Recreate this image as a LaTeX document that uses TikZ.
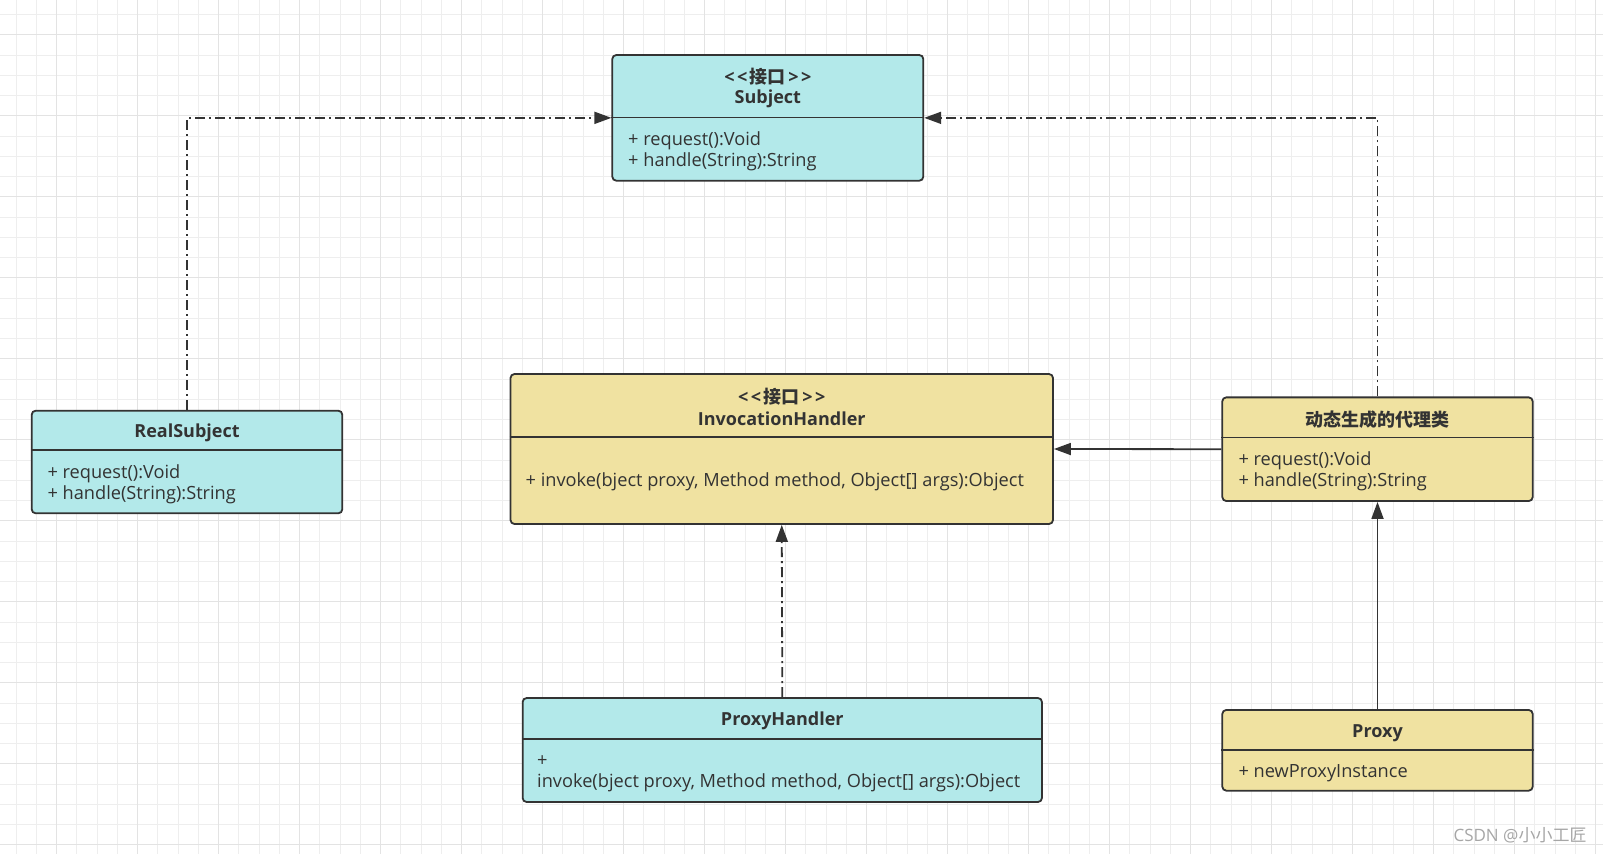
\documentclass[tikz,border=0pt]{standalone}
\usepackage{fontspec}
\setmainfont{Open Sans}
\newfontfamily\cjk{Noto Sans CJK SC}
\usetikzlibrary{arrows.meta,calc}
\definecolor{cyanfill}{HTML}{B3E9EA}
\definecolor{yellowfill}{HTML}{F0E2A1}
\definecolor{edgecol}{HTML}{333333}
\definecolor{gridthin}{HTML}{EEEEEE}
\definecolor{gridthick}{HTML}{E3E3E3}
\definecolor{wmark}{HTML}{A6A6A6}
\newcommand{\stereo}{<\kern2.5pt<\kern2.5pt{\cjk 接口}\kern2.5pt>\kern2.5pt>}
\begin{document}
\begin{tikzpicture}[x=1pt,y=-1pt,
  classbox/.style={draw=edgecol, line width=1.8pt, rounded corners=4pt, inner sep=0pt},
  cyanbox/.style={classbox, fill=cyanfill},
  yellowbox/.style={classbox, fill=yellowfill},
  divline/.style={draw=edgecol, line width=1.8pt},
  titletext/.style={inner sep=0pt, text=edgecol, font=\fontsize{18}{21}\selectfont\bfseries},
  methodtext/.style={inner sep=0pt, anchor=west, align=left, text=edgecol, font=\fontsize{18.2}{21}\selectfont},
  realize/.style={draw=edgecol, line width=1.8pt, dash pattern=on 10pt off 4pt on 2pt off 4pt, -{Triangle[length=17pt,width=12pt]}},
  assoc/.style={draw=edgecol, line width=1.8pt, -{Triangle[length=17pt,width=12pt]}},
  gline/.style={draw=gridthin, line width=1pt},
  gthick/.style={draw=gridthick, line width=1.3pt}
]
\useasboundingbox (0,0) rectangle (1603,854);
\fill[white] (0,0) rectangle (1603,854);
% grid
\foreach \k in {0,...,78} {
  \pgfmathsetmacro\gx{16+20.25*\k}
  \draw[gline] (\gx,0) -- (\gx,854);
}
\foreach \k in {0,...,41} {
  \pgfmathsetmacro\gy{14.5+20.25*\k}
  \draw[gline] (0,\gy) -- (1603,\gy);
}
\foreach \k in {2,6,...,78} {
  \pgfmathsetmacro\gx{16+20.25*\k}
  \draw[gthick] (\gx,0) -- (\gx,854);
}
\foreach \k in {1,5,...,41} {
  \pgfmathsetmacro\gy{14.5+20.25*\k}
  \draw[gthick] (0,\gy) -- (1603,\gy);
}

% Subject
\node[cyanbox, minimum width=311pt, minimum height=125.7pt] (subj) at (767.8,117.85) {};
\draw[divline] ($(subj.north west)+(0,63.3)$) -- ($(subj.north east)+(0,63.3)$);
\node[titletext] (subjst) at (767.8,77) {\stereo};
\node[titletext] (subjname) at (767.8,98.5) {Subject};
\node[methodtext] (subjm) at (628,151.5) {+ request():Void\\+ handle(String):String};

% RealSubject
\node[cyanbox, minimum width=310.6pt, minimum height=102.6pt] (rs) at (187,462) {};
\draw[divline] ($(rs.north west)+(0,40.3)$) -- ($(rs.north east)+(0,40.3)$);
\node[titletext] (rsname) at (187,432.5) {RealSubject};
\node[methodtext] (rsm) at (47.3,484) {+ request():Void\\+ handle(String):String};

% InvocationHandler
\node[yellowbox, minimum width=542.5pt, minimum height=150pt] (inv) at (781.75,449) {};
\draw[divline] ($(inv.north west)+(0,63.5)$) -- ($(inv.north east)+(0,63.5)$);
\node[titletext] (invst) at (781.75,396.8) {\stereo};
\node[titletext] (invname) at (781.75,418.3) {InvocationHandler};
\node[methodtext] (invm) at (525.5,481.5) {+ invoke(bject proxy, Method method, Object[] args):Object};

% dynamic proxy class
\node[yellowbox, minimum width=310.4pt, minimum height=103.7pt] (dyn) at (1377.5,449.2) {};
\draw[divline] ($(dyn.north west)+(0,41)$) -- ($(dyn.north east)+(0,41)$);
\node[titletext] (dynname) at (1377.5,419.5) {\cjk 动态生成的代理类};
\node[methodtext] (dynm) at (1238.3,470.8) {+ request():Void\\+ handle(String):String};

% ProxyHandler
\node[cyanbox, minimum width=519.3pt, minimum height=104pt] (ph) at (782.3,750) {};
\draw[divline] ($(ph.north west)+(0,41.5)$) -- ($(ph.north east)+(0,41.5)$);
\node[titletext] (phname) at (782.3,720.8) {ProxyHandler};
\node[methodtext] (phm) at (537,774) {+\\invoke(bject proxy, Method method, Object[] args):Object};

% Proxy
\node[yellowbox, minimum width=310.4pt, minimum height=80.7pt] (px) at (1377.5,750.3) {};
\draw[divline] ($(px.north west)+(0,41)$) -- ($(px.north east)+(0,41)$);
\node[titletext] (pxname) at (1377.5,732.8) {Proxy};
\node[methodtext] (pxm) at (1238.3,773) {+ newProxyInstance};

% connectors
\draw[realize] (rs.north) |- (subj.west);
\draw[realize] (dyn.north) |- (subj.east);
\draw[assoc] (dyn.west) -- (inv.east);
\draw[realize] (ph.north) -- (inv.south);
\draw[assoc] (px.north) -- (dyn.south);

% watermark
\node[inner sep=0pt, text=wmark, font=\fontsize{17}{20}\selectfont] (wm) at (1520,835) {CSDN @{\cjk 小小工匠}};
\end{tikzpicture}
\end{document}
